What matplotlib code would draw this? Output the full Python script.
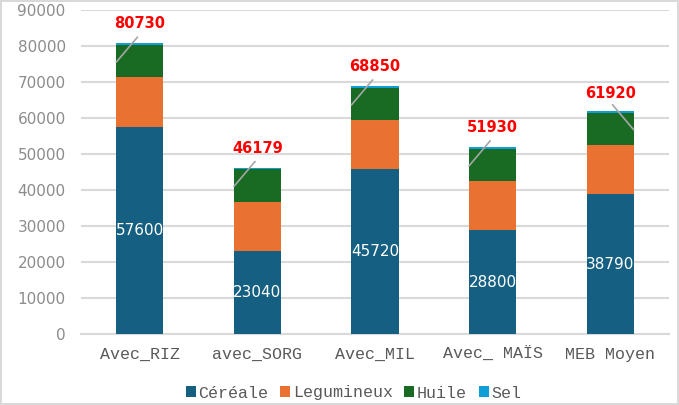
import matplotlib.pyplot as plt
import matplotlib.transforms as mtransforms

categories = ["Avec_RIZ", "avec_SORG", "Avec_MIL", "Avec_ MAÏS", "MEB Moyen"]
cereale = [57600, 23040, 45720, 28800, 38790]
legumineux = [13700, 13700, 13700, 13700, 13700]
huile = [9000, 9000, 9000, 9000, 9000]
sel = [430, 439, 430, 430, 430]
totals = [80730, 46179, 68850, 51930, 61920]

colors = {"Céréale": "#156082", "Legumineux": "#E97132",
          "Huile": "#196B24", "Sel": "#0F9ED5"}


def main():
    fig = plt.figure(figsize=(6.79, 4.05), dpi=100)
    fig.patch.set_edgecolor("#d9d9d9")
    fig.patch.set_linewidth(1.5)
    ax = fig.add_axes([81 / 679, 71 / 405, 588 / 679, 324 / 405])

    x = range(len(categories))
    w = 0.4
    bottom = [0] * len(categories)
    for name, vals in [("Céréale", cereale), ("Legumineux", legumineux),
                       ("Huile", huile), ("Sel", sel)]:
        ax.bar(x, vals, w, bottom=bottom, color=colors[name], label=name, zorder=3)
        bottom = [b + v for b, v in zip(bottom, vals)]

    # white labels in the middle of the cereal segment
    for i, v in enumerate(cereale):
        ax.text(i, v / 2, str(v), color="white", ha="center", va="center",
                fontsize=11, family="DejaVu Sans", zorder=4)

    # red totals with a grey leader line
    start = mtransforms.offset_copy(ax.transData, fig=fig, x=0, y=4.5, units="points")
    end = mtransforms.offset_copy(ax.transData, fig=fig, x=0, y=-13.5, units="points")
    for i, t in enumerate(totals):
        last = i == len(totals) - 1
        side = 1 if last else -1
        ax.annotate(str(t), xy=(i, t), xytext=(0, 13 if last else 14),
                    textcoords="offset points", ha="center", va="center",
                    color="red", fontsize=10.5, fontweight="bold",
                    family="DejaVu Sans", zorder=5)
        ax.annotate("", xy=(i + side * w / 2, t), xycoords=end,
                    xytext=(i + (0.02 if last else -0.02), t), textcoords=start,
                    arrowprops=dict(arrowstyle="-", color="#a6a6a6", lw=1.2,
                                    shrinkA=0, shrinkB=0), zorder=5)

    ax.set_xlim(-0.5, len(categories) - 0.5)
    ax.set_ylim(0, 90000)
    ax.set_yticks(range(0, 90001, 10000))
    ax.yaxis.grid(True, color="#d9d9d9", lw=1.5, zorder=0)
    for s in ["top", "right", "left"]:
        ax.spines[s].set_visible(False)
    ax.spines["bottom"].set_color("#d9d9d9")
    ax.spines["bottom"].set_linewidth(1.5)
    ax.tick_params(axis="both", length=0)
    ax.tick_params(axis="y", pad=11, labelsize=11, labelcolor="#8c8c8c")
    ax.set_xticks(list(x))
    ax.set_xticklabels(categories, family="Liberation Mono", fontsize=12, color="#595959")
    ax.tick_params(axis="x", pad=9)

    fig.legend(loc="center", bbox_to_anchor=(353.5 / 679, 1 - 393 / 405), ncol=4,
               frameon=False, handlelength=0.6, handleheight=0.6, handletextpad=0.15,
               columnspacing=0.7, prop={"family": "Liberation Mono", "size": 12},
               labelcolor="#595959")

    fig.savefig("out.png", dpi=100, edgecolor=fig.get_edgecolor())


if __name__ == "__main__":
    main()
